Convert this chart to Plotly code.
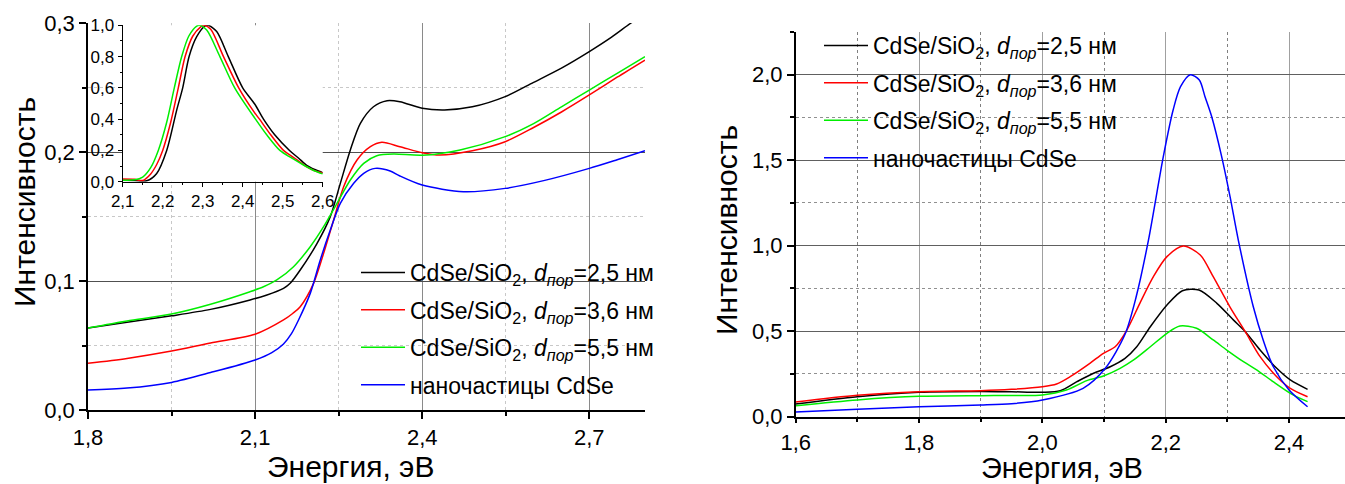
import plotly.graph_objects as go

W, H = 1345, 484
FONT = "Liberation Sans, Arial, sans-serif"

# ---- Absorption spectra (main left panel) ----
abs_black_x = [1.80, 1.87, 1.95, 2.02, 2.091, 2.12, 2.151, 2.163, 2.181, 2.211, 2.235, 2.253, 2.271, 2.289,
               2.3125, 2.337, 2.36, 2.40, 2.44, 2.49, 2.549, 2.60, 2.65, 2.70, 2.74, 2.775, 2.80]
abs_black_y = [0.0635, 0.068, 0.073, 0.078, 0.0853, 0.089, 0.0943, 0.0982, 0.1085, 0.129, 0.1499, 0.1757, 0.2016, 0.2222,
               0.2351, 0.2398, 0.239, 0.2339, 0.2326, 0.235, 0.2429, 0.254, 0.265, 0.2778, 0.289, 0.300, 0.307]

abs_red_x = [1.80, 1.87, 1.95, 2.02, 2.10, 2.151, 2.168, 2.181, 2.205, 2.223, 2.241, 2.259, 2.283, 2.307,
             2.3275, 2.36, 2.40, 2.432, 2.49, 2.549, 2.60, 2.65, 2.70, 2.75, 2.80]
abs_red_y = [0.0362, 0.040, 0.0457, 0.052, 0.0587, 0.0698, 0.075, 0.0801, 0.0982, 0.1214, 0.1473, 0.1731, 0.1938, 0.2041,
             0.2075, 0.2041, 0.1995, 0.1977, 0.201, 0.208, 0.219, 0.231, 0.2442, 0.258, 0.2713]

abs_green_x = [1.80, 1.87, 1.95, 2.02, 2.091, 2.115, 2.139, 2.169, 2.199, 2.223, 2.247, 2.271, 2.295, 2.3185,
               2.3485, 2.40, 2.468, 2.549, 2.60, 2.65, 2.70, 2.75, 2.80]
abs_green_y = [0.0635, 0.069, 0.0744, 0.082, 0.0917, 0.0955, 0.1008, 0.1111, 0.1266, 0.1421, 0.1602, 0.1783, 0.1912, 0.1971,
               0.1984, 0.1975, 0.2016, 0.2119, 0.222, 0.235, 0.248, 0.261, 0.2739]

abs_blue_x = [1.80, 1.87, 1.95, 2.02, 2.10, 2.13, 2.151, 2.165, 2.178, 2.199, 2.217, 2.235, 2.253, 2.277, 2.295,
              2.3155, 2.3425, 2.36, 2.40, 2.474, 2.549, 2.62, 2.70, 2.75, 2.80]
abs_blue_y = [0.0155, 0.017, 0.0214, 0.029, 0.0388, 0.0445, 0.0512, 0.059, 0.0698, 0.0904, 0.1163, 0.1395, 0.1602, 0.1757, 0.1835,
              0.1873, 0.1853, 0.1814, 0.1744, 0.1692, 0.1718, 0.178, 0.1873, 0.194, 0.201]

# ---- Normalised PL spectra (inset) ----
pl_black_x = [2.10, 2.13, 2.16, 2.185, 2.21, 2.235, 2.25, 2.266, 2.285, 2.306, 2.314, 2.335, 2.364,
              2.40, 2.43, 2.452, 2.48, 2.517, 2.54, 2.56, 2.58, 2.60]
pl_black_y = [0.010, 0.008, 0.006, 0.053, 0.20, 0.458, 0.60, 0.80, 0.927, 0.996, 1.0, 0.96, 0.80,
              0.60, 0.497, 0.40, 0.30, 0.20, 0.15, 0.105, 0.078, 0.058]

pl_red_x = [2.10, 2.13, 2.15, 2.17, 2.185, 2.20, 2.22, 2.239, 2.256, 2.275, 2.295, 2.303, 2.32, 2.352,
            2.39, 2.43, 2.442, 2.47, 2.502, 2.53, 2.56, 2.58, 2.60]
pl_red_y = [0.017, 0.015, 0.008, 0.05, 0.11, 0.20, 0.38, 0.60, 0.80, 0.93, 0.99, 1.0, 0.975, 0.80,
            0.60, 0.44, 0.40, 0.30, 0.20, 0.15, 0.095, 0.07, 0.055]

pl_green_x = [2.10, 2.13, 2.15, 2.17, 2.189, 2.21, 2.229, 2.2475, 2.265, 2.285, 2.292, 2.31, 2.343,
              2.38, 2.432, 2.46, 2.493, 2.52, 2.55, 2.575, 2.60]
pl_green_y = [0.010, 0.012, 0.03, 0.09, 0.20, 0.38, 0.60, 0.80, 0.93, 0.995, 1.0, 0.97, 0.80,
              0.60, 0.40, 0.30, 0.20, 0.155, 0.11, 0.075, 0.05]

# ---- PL spectra (right panel) ----
pl2_black_x = [1.60, 1.70, 1.80, 1.90, 1.95, 2.00, 2.029, 2.056, 2.083, 2.110, 2.134, 2.153, 2.175, 2.202,
               2.227, 2.254, 2.283, 2.310, 2.329, 2.353, 2.380, 2.402, 2.430]
pl2_black_y = [0.074, 0.117, 0.143, 0.148, 0.146, 0.143, 0.152, 0.205, 0.254, 0.292, 0.341, 0.409, 0.526, 0.653,
               0.737, 0.741, 0.663, 0.565, 0.497, 0.390, 0.283, 0.215, 0.160]

pl2_red_x = [1.60, 1.70, 1.80, 1.90, 1.95, 2.00, 2.023, 2.045, 2.077, 2.099, 2.118, 2.137, 2.158, 2.180,
             2.202, 2.2285, 2.256, 2.277, 2.304, 2.329, 2.353, 2.380, 2.402, 2.430]
pl2_red_y = [0.086, 0.125, 0.146, 0.152, 0.160, 0.175, 0.191, 0.234, 0.312, 0.371, 0.409, 0.507, 0.663, 0.819,
             0.936, 0.998, 0.946, 0.819, 0.643, 0.497, 0.351, 0.234, 0.166, 0.117]

pl2_green_x = [1.60, 1.70, 1.80, 1.90, 1.95, 2.00, 2.039, 2.072, 2.099, 2.126, 2.148, 2.175, 2.202, 2.223,
               2.250, 2.277, 2.299, 2.326, 2.348, 2.374, 2.402, 2.430]
pl2_green_y = [0.064, 0.098, 0.119, 0.123, 0.124, 0.127, 0.156, 0.211, 0.238, 0.283, 0.332, 0.409, 0.488, 0.530,
               0.517, 0.449, 0.390, 0.322, 0.273, 0.205, 0.137, 0.088]

pl2_blue_x = [1.60, 1.70, 1.80, 1.90, 1.95, 2.00, 2.066, 2.102, 2.134, 2.152, 2.172, 2.196, 2.212, 2.224,
              2.240, 2.2545, 2.2637, 2.2746, 2.2908, 2.3043, 2.3177, 2.342, 2.358, 2.3745, 2.40, 2.430]
pl2_blue_y = [0.0275, 0.043, 0.058, 0.068, 0.076, 0.098, 0.166, 0.283, 0.482, 0.70, 1.033, 1.52, 1.794, 1.93,
              2.0, 1.969, 1.871, 1.754, 1.52, 1.287, 1.033, 0.643, 0.449, 0.292, 0.156, 0.058]

names = [
    "CdSe/SiO<sub>2</sub>, <i>d</i><sub><i>пор</i></sub>=2,5 нм",
    "CdSe/SiO<sub>2</sub>, <i>d</i><sub><i>пор</i></sub>=3,6 нм",
    "CdSe/SiO<sub>2</sub>, <i>d</i><sub><i>пор</i></sub>=5,5 нм",
    "наночастицы CdSe",
]
colors = ["#000000", "#ff0000", "#00ee00", "#0000ff"]

fig = go.Figure()

def add_line(x, y, color, xa, ya, name=None, legend=None, group=None):
    fig.add_trace(go.Scatter(
        x=x, y=y, mode="lines", xaxis=xa, yaxis=ya,
        line=dict(color=color, width=1.5, shape="spline", smoothing=0.8),
        name=name or "", showlegend=name is not None,
        legend=legend, legendgroup=group,
    ))

main = [(abs_black_x, abs_black_y), (abs_red_x, abs_red_y), (abs_green_x, abs_green_y), (abs_blue_x, abs_blue_y)]
for i, (x, y) in enumerate(main):
    add_line(x, y, colors[i], "x", "y", names[i], "legend", f"a{i}")

inset = [(pl_black_x, pl_black_y), (pl_red_x, pl_red_y), (pl_green_x, pl_green_y)]
for i, (x, y) in enumerate(inset):
    add_line(x, y, colors[i], "x2", "y2")

right = [(pl2_black_x, pl2_black_y), (pl2_red_x, pl2_red_y), (pl2_green_x, pl2_green_y), (pl2_blue_x, pl2_blue_y)]
for i, (x, y) in enumerate(right):
    add_line(x, y, colors[i], "x3", "y3", names[i], "legend2", f"b{i}")

def px_x(a, b):
    return [a / W, b / W]

def px_y(top, bottom):
    return [1 - bottom / H, 1 - top / H]

tick_font = dict(family=FONT, size=22, color="black")
axis_common = dict(showline=True, linecolor="black", linewidth=1.5, ticks="outside",
                   tickwidth=1.5, tickcolor="black", zeroline=False, tickformat=".1f", tickfont=tick_font,
                   automargin=False)

fig.update_layout(
    width=W, height=H, margin=dict(l=0, r=0, t=0, b=0, pad=0, autoexpand=False),
    paper_bgcolor="white", plot_bgcolor="white", separators=", ",
    font=dict(family=FONT, color="black"),
    xaxis=dict(domain=px_x(88, 645), range=[1.8, 2.8], tick0=1.8, dtick=0.3, anchor="y", ticklen=7,
               showgrid=True, gridcolor="#8a8a8a", gridwidth=1,
               minor=dict(dtick=0.15, tick0=1.8, ticks="outside", ticklen=4, tickcolor="black",
                          showgrid=True, gridcolor="#c8c8c8", griddash="dot"),
               **axis_common),
    yaxis=dict(domain=px_y(23, 410), range=[0, 0.3], tick0=0, dtick=0.1, anchor="x", ticklen=7,
               showgrid=True, gridcolor="#505050", gridwidth=1,
               minor=dict(dtick=0.05, tick0=0, ticks="outside", ticklen=4, tickcolor="black",
                          showgrid=True, gridcolor="#c8c8c8", griddash="dot"),
               **axis_common),
    xaxis2=dict(domain=px_x(122.7, 322.7), range=[2.1, 2.6], tick0=2.1, dtick=0.1, anchor="y2",
                showgrid=False, showline=True, linecolor="black", linewidth=1.2, ticks="outside",
                ticklen=4, tickcolor="black", zeroline=False, tickformat=".1f", automargin=False,
                tickfont=dict(family=FONT, size=17, color="black"),
                minor=dict(dtick=0.05, tick0=2.1, ticks="outside", ticklen=2, tickcolor="black")),
    yaxis2=dict(domain=px_y(25.3, 181.7), range=[0, 1.0], tick0=0, dtick=0.2, anchor="x2",
                showgrid=False, showline=True, linecolor="black", linewidth=1.2, ticks="outside",
                ticklen=4, tickcolor="black", zeroline=False, tickformat=".1f", automargin=False,
                tickfont=dict(family=FONT, size=17, color="black"),
                minor=dict(dtick=0.1, tick0=0, ticks="outside", ticklen=2, tickcolor="black")),
    xaxis3=dict(domain=px_x(795.7, 1345), range=[1.6, 2.4907], tick0=1.6, dtick=0.2, anchor="y3", ticklen=5,
                showgrid=True, gridcolor="#a0a0a0", gridwidth=1,
                minor=dict(dtick=0.1, tick0=1.6, ticks="outside", ticklen=4, tickcolor="black",
                           showgrid=True, gridcolor="#808080", griddash="dot"),
                **axis_common),
    yaxis3=dict(domain=px_y(32, 416.7), range=[0, 2.25], tick0=0, dtick=0.5, anchor="x3", ticklen=7,
                showgrid=True, gridcolor="#606060", gridwidth=1,
                minor=dict(dtick=0.25, tick0=0, ticks="outside", ticklen=4, tickcolor="black",
                           showgrid=True, gridcolor="#909090", griddash="dot"),
                **axis_common),
    legend=dict(x=356 / W, y=1 - 251 / H, xanchor="left", yanchor="top", bgcolor="rgba(0,0,0,0)",
                borderwidth=0, font=dict(family=FONT, size=23, color="black"),
                traceorder="grouped", tracegroupgap=4.5, itemwidth=44),
    legend2=dict(x=819 / W, y=1 - 24 / H, xanchor="left", yanchor="top", bgcolor="rgba(0,0,0,0)",
                 borderwidth=0, font=dict(family=FONT, size=23, color="black"),
                 traceorder="grouped", tracegroupgap=4.5, itemwidth=44),
)

# white panels behind the legends: they hide the grid but sit under the curves
fig.add_shape(type="rect", xref="paper", yref="paper", layer="between",
              x0=336 / W, x1=645 / W, y0=1 - 405 / H, y1=1 - 243 / H,
              fillcolor="white", line=dict(width=0))
fig.add_shape(type="rect", xref="paper", yref="paper", layer="between",
              x0=797 / W, x1=1159 / W, y0=1 - 178 / H, y1=1 - 32 / H,
              fillcolor="white", line=dict(width=0))

title_font = dict(family=FONT, size=30, color="black")
fig.add_annotation(text="Интенсивность", x=24 / W, y=1 - 202 / H, xref="paper", yref="paper",
                   textangle=-90, showarrow=False, xanchor="center", yanchor="middle", font=title_font)
fig.add_annotation(text="Энергия, эВ", x=350 / W, y=1 - 466 / H, xref="paper", yref="paper",
                   showarrow=False, xanchor="center", yanchor="middle", font=title_font)
fig.add_annotation(text="Интенсивность", x=726 / W, y=1 - 230 / H, xref="paper", yref="paper",
                   textangle=-90, showarrow=False, xanchor="center", yanchor="middle", font=title_font)
fig.add_annotation(text="Энергия, эВ", x=1062 / W, y=1 - 468 / H, xref="paper", yref="paper",
                   showarrow=False, xanchor="center", yanchor="middle",
                   font=dict(family=FONT, size=29, color="black"))

fig.write_html("out.html")
